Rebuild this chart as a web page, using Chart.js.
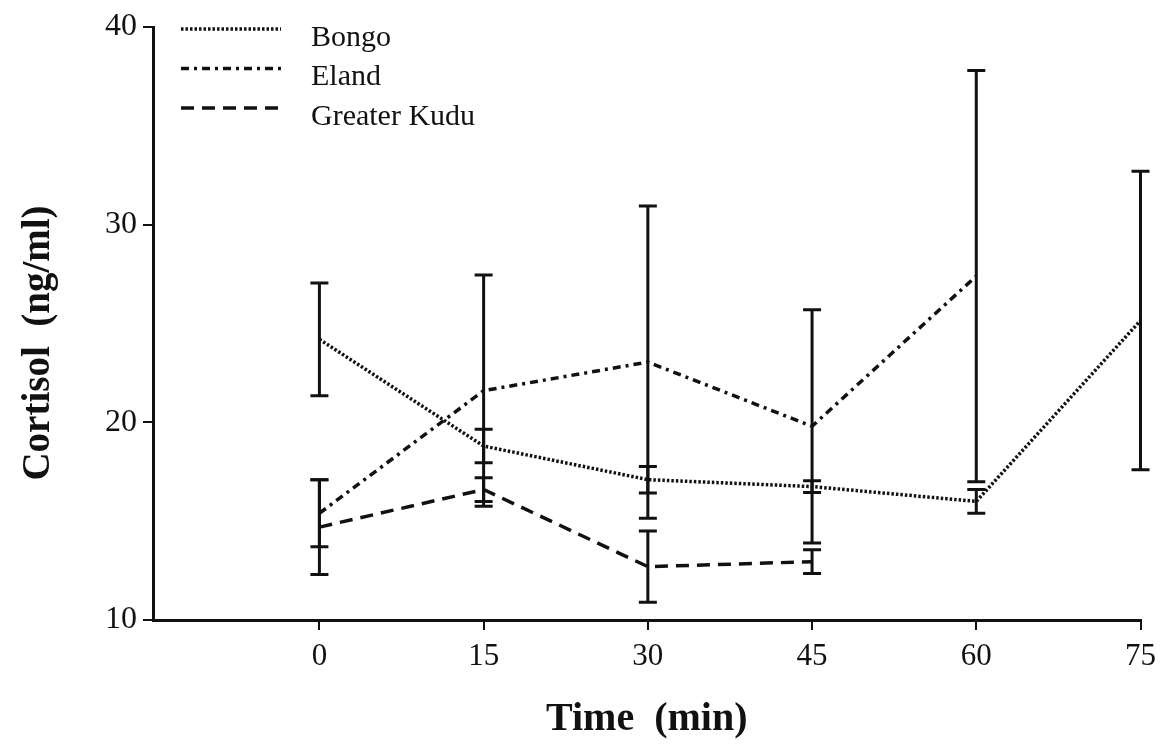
<!DOCTYPE html>
<html>
<head>
<meta charset="utf-8">
<script src="https://cdn.jsdelivr.net/npm/chart.js@4.4.1/dist/chart.umd.min.js"></script>
<style>
html,body{margin:0;padding:0;background:#fff;}
#wrap{width:1164px;height:744px;position:relative;}
</style>
</head>
<body>
<div id="wrap"><canvas id="c"></canvas></div>
<script>
// ---- data ----
const times = [0, 15, 30, 45, 60, 75];
const bongoMean = [24.2, 18.8, 17.1, 16.75, 16.0, 25.15];
const bongoErr  = [2.85, 0.85, 0.67, 0.3, 0.6, 7.55];
const elandMean = [15.4, 21.6, 23.05, 19.8, 27.4];
const elandErr  = [1.7, 5.85, 7.9, 5.9, 10.4];
const kuduMean  = [14.7, 16.6, 12.7, 12.95];
const kuduErr   = [2.4, 0.6, 1.8, 0.6];
const seriesNames = ['Bongo', 'Eland', 'Greater Kudu'];
const yTicks = [10, 20, 30, 40];
const xTickLabels = [0, 15, 30, 45, 60, 75];

const toPts = (m) => m.map((v, i) => ({x: times[i], y: v}));
const SERIF = '"Liberation Serif", "DejaVu Serif", serif';

const errorBars = {
  id: 'errorBars',
  afterDatasetsDraw(chart) {
    const {ctx, scales: {x, y}} = chart;
    ctx.save();
    ctx.strokeStyle = '#111';
    ctx.lineWidth = 3;
    ctx.setLineDash([]);
    chart.data.datasets.forEach(ds => {
      ds.data.forEach((p, i) => {
        const e = ds.errors[i];
        const px = x.getPixelForValue(p.x);
        const pt = y.getPixelForValue(p.y + e);
        const pb = y.getPixelForValue(p.y - e);
        ctx.beginPath();
        ctx.moveTo(px, pt); ctx.lineTo(px, pb);
        ctx.moveTo(px - 9, pt); ctx.lineTo(px + 9, pt);
        ctx.moveTo(px - 9, pb); ctx.lineTo(px + 9, pb);
        ctx.stroke();
      });
    });
    ctx.restore();
  }
};

const legendPlugin = {
  id: 'customLegend',
  afterDraw(chart) {
    const {ctx} = chart;
    ctx.save();
    chart.data.datasets.forEach((ds, i) => {
      const yy = 29 + i * 39.5;
      ctx.strokeStyle = ds.borderColor;
      ctx.lineWidth = ds.borderWidth;
      ctx.setLineDash(ds.borderDash);
      ctx.beginPath();
      ctx.moveTo(181, yy); ctx.lineTo(281, yy);
      ctx.stroke();
      ctx.setLineDash([]);
      ctx.fillStyle = '#111';
      ctx.font = '30px ' + SERIF;
      ctx.textBaseline = 'middle';
      ctx.fillText(ds.label, 311, yy + 9);
    });
    ctx.restore();
  }
};

new Chart(document.getElementById('c'), {
  type: 'line',
  data: {
    datasets: [
      {label: seriesNames[0], data: toPts(bongoMean), errors: bongoErr,
       borderColor: '#111', borderWidth: 3.5, borderDash: [2.5, 2]},
      {label: seriesNames[1], data: toPts(elandMean), errors: elandErr,
       borderColor: '#111', borderWidth: 3.5, borderDash: [8, 5, 3, 5]},
      {label: seriesNames[2], data: toPts(kuduMean), errors: kuduErr,
       borderColor: '#111', borderWidth: 3.5, borderDash: [13, 8]}
    ]
  },
  options: {
    responsive: true,
    maintainAspectRatio: false,
    animation: false,
    layout: {padding: {top: 27, right: 22, left: 0, bottom: 0}},
    elements: {point: {radius: 0}, line: {tension: 0}},
    plugins: {legend: {display: false}, tooltip: {enabled: false}},
    scales: {
      x: {
        type: 'linear', min: -15.2, max: 75,
        afterBuildTicks(s) { s.ticks = xTickLabels.map(v => ({value: v})); },
        afterFit(s) { s.height = 124; },
        border: {color: '#111', width: 3},
        grid: {display: true, drawOnChartArea: false, drawTicks: true, tickLength: 10, color: '#111', lineWidth: 2},
        ticks: {color: '#111', padding: 8, font: {family: SERIF, size: 31},
                maxRotation: 0, autoSkip: false},
        title: {display: true, text: 'Time  (min)', color: '#111',
                font: {family: SERIF, size: 40, weight: 'bold'}, padding: {top: 2, bottom: 0}}
      },
      y: {
        type: 'linear', min: 10, max: 40,
        afterBuildTicks(s) { s.ticks = yTicks.map(v => ({value: v})); },
        afterFit(s) { s.width = 153; },
        border: {color: '#111', width: 3},
        grid: {display: true, drawOnChartArea: false, drawTicks: true, tickLength: 10, color: '#111', lineWidth: 2},
        ticks: {color: '#111', padding: 6, font: {family: SERIF, size: 32}},
        title: {display: true, text: 'Cortisol  (ng/ml)\u00a0\u00a0\u00a0\u00a0', color: '#111',
                font: {family: SERIF, size: 39, weight: 'bold'}, padding: {top: 16, bottom: 0}}
      }
    }
  },
  plugins: [errorBars, legendPlugin]
});
</script>
</body>
</html>
